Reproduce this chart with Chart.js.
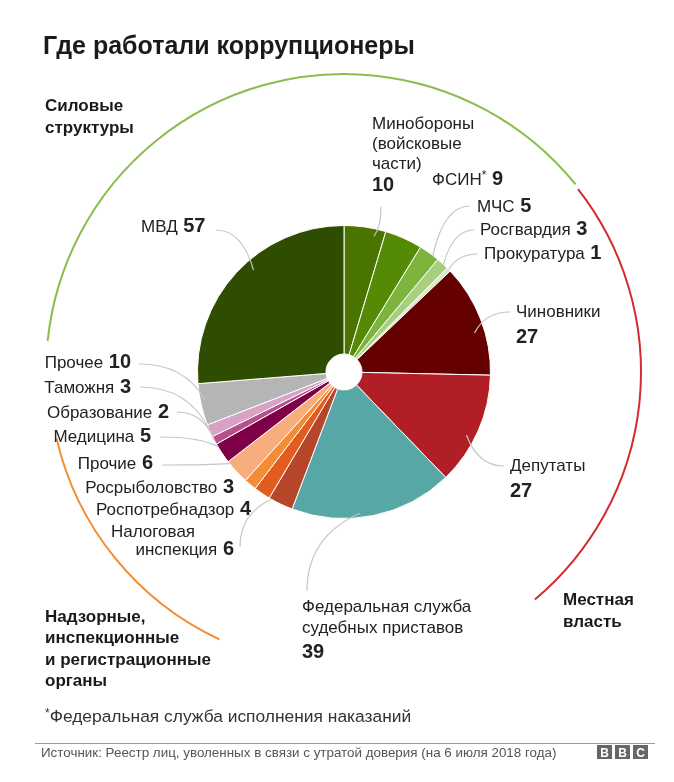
<!DOCTYPE html>
<html>
<head>
<meta charset="utf-8">
<script src="https://cdn.jsdelivr.net/npm/chart.js@4.4.1/dist/chart.umd.min.js"></script>
<style>
  html, body { margin: 0; padding: 0; background: #ffffff; }
  #wrap { position: relative; width: 674px; height: 782px; }
</style>
</head>
<body>
<div id="wrap"><canvas id="c" width="674" height="782"></canvas></div>
<script>
// ---------- DATA ----------
const categories = [
  "Минобороны (войсковые части)", "ФСИН*", "МЧС", "Росгвардия", "Прокуратура",
  "Чиновники", "Депутаты",
  "Федеральная служба судебных приставов", "Налоговая инспекция", "Роспотребнадзор", "Росрыболовство", "Прочие",
  "Медицина", "Образование", "Таможня", "Прочее",
  "МВД"
];
const values = [10, 9, 5, 3, 1, 27, 27, 39, 6, 4, 3, 6, 5, 2, 3, 10, 57];
const titleText = "Где работали коррупционеры";
const footnoteText = "Федеральная служба исполнения наказаний";
const sourceText = "Источник: Реестр лиц, уволенных в связи с утратой доверия (на 6 июля 2018 года)";

// ---------- STYLE ----------
const colors = [
  "#4a7400", "#558a05", "#7db43c", "#a6cf7e", "#d8e9c2",
  "#650000", "#b11e25",
  "#58a7a7", "#b5462a", "#e35c1f", "#f58b35", "#f8ad7c",
  "#7e0047", "#b8508a", "#d7a2c6", "#b5b5b5",
  "#2f4d00"
];
const FONT = '"Liberation Sans", Arial, sans-serif';
const TXT = "#222222";

// label layout: slice index, text lines, number placement, anchor, leader
const labelLayout = [
  { i: 16, lines: ["МВД"], num: "inline", x: 141, y: 232, align: "left", lead: [216, 230], fr: 0.93, af: 0.56, mode: "h" },
  { i: 0, lines: ["Минобороны", "(войсковые", "части)"], num: "below", x: 372, y: 129, align: "left", lh: 20, lh2: 22, lead: [381, 207], fr: 0.95, af: 0.75, mode: "v" },
  { i: 1, lines: ["ФСИН"], star: true, num: "inline", x: 432, y: 185, align: "left" },
  { i: 2, lines: ["МЧС"], num: "inline", x: 477, y: 212, align: "left", lead: [470, 206], fr: 1.0, af: 0.7, mode: "h" },
  { i: 3, lines: ["Росгвардия"], num: "inline", x: 480, y: 235, align: "left", lead: [474, 230], fr: 1.0, af: 0.6, mode: "h" },
  { i: 4, lines: ["Прокуратура"], num: "inline", x: 484, y: 259, align: "left", lead: [478, 254], fr: 1.0, af: 0.5, mode: "h" },
  { i: 5, lines: ["Чиновники"], num: "below", x: 516, y: 317, align: "left", lh: 26, lead: [510, 312], fr: 0.93, af: 0.6, mode: "h" },
  { i: 6, lines: ["Депутаты"], num: "below", x: 510, y: 471, align: "left", lh: 26, lead: [504, 466], fr: 0.94, af: 0.58, mode: "h" },
  { i: 7, lines: ["Федеральная служба", "судебных приставов"], num: "below", x: 302, y: 612, align: "left", lh: 21, lh2: 25, lead: [307, 591], fr: 0.97, af: 0.58, mode: "v" },
  { i: 8, lines: ["Налоговая", "инспекция"], num: "inline", x: 111, y: 537, align: "left2", rx: 234, lh: 18, lead: [240, 547], fr: 1.0, af: 0.9, mode: "v" },
  { i: 9, lines: ["Роспотребнадзор"], num: "inline", x: 251, y: 515, align: "right" },
  { i: 10, lines: ["Росрыболовство"], num: "inline", x: 234, y: 493, align: "right" },
  { i: 11, lines: ["Прочие"], num: "inline", x: 153, y: 469, align: "right", lead: [162, 465], fr: 1.0, af: 0.9, mode: "h" },
  { i: 12, lines: ["Медицина"], num: "inline", x: 151, y: 442, align: "right", lead: [160, 437], fr: 1.0, af: 0.85, mode: "h" },
  { i: 13, lines: ["Образование"], num: "inline", x: 169, y: 418, align: "right", lead: [177, 412], fr: 1.0, af: 0.5, mode: "h" },
  { i: 14, lines: ["Таможня"], num: "inline", x: 131, y: 393, align: "right", lead: [140, 387], fr: 1.0, af: 0.5, mode: "h" },
  { i: 15, lines: ["Прочее"], num: "inline", x: 131, y: 368, align: "right", lead: [139, 364], fr: 0.97, af: 0.6, mode: "h" }
];

// group arcs (canvas degrees around the pie centre)
const groupArcs = [
  { color: "#8bbd4a", a0: 186, a1: 321, r: 298 },
  { color: "#d42b33", a0: 322, a1: 410, r: 297 },
  { color: "#f28d33", a0: 115, a1: 167, r: 295 }
];
const groupLabels = [
  { lines: ["Силовые", "структуры"], x: 45, y: 111, lh: 22 },
  { lines: ["Местная", "власть"], x: 563, y: 605, lh: 22 },
  { lines: ["Надзорные,", "инспекционные", "и регистрационные", "органы"], x: 45, y: 622, lh: 21.3 }
];

function fontR(s) { return s + "px " + FONT; }
function fontB(s) { return "bold " + s + "px " + FONT; }

const LBL = 17, NUM = 20;

function drawParts(ctx, parts, x, y, align) {
  let w = 0;
  parts.forEach(p => { ctx.font = p.f; p.w = ctx.measureText(p.t).width; w += p.w; });
  let cx = align === "right" ? x - w : x;
  ctx.textAlign = "left";
  ctx.textBaseline = "alphabetic";
  parts.forEach(p => {
    ctx.font = p.f; ctx.fillStyle = p.c || TXT;
    ctx.fillText(p.t, cx, y + (p.dy || 0));
    cx += p.w;
  });
}

const overlay = {
  id: "overlay",
  beforeDraw(chart) {
    const ctx = chart.ctx;
    ctx.save();
    ctx.fillStyle = "#ffffff";
    ctx.fillRect(0, 0, chart.width, chart.height);
    ctx.restore();
  },
  afterDraw(chart) {
    const ctx = chart.ctx;
    const meta = chart.getDatasetMeta(0);
    const a0 = meta.data[0];
    const cx = a0.x, cy = a0.y;
    ctx.save();

    // title
    ctx.fillStyle = "#1a1a1a";
    ctx.font = fontB(25);
    ctx.textAlign = "left";
    ctx.fillText(titleText, 43, 54);

    // group arcs
    groupArcs.forEach(g => {
      ctx.beginPath();
      ctx.strokeStyle = g.color;
      ctx.lineWidth = 2;
      ctx.arc(cx, cy, g.r, g.a0 * Math.PI / 180, g.a1 * Math.PI / 180);
      ctx.stroke();
    });

    // group labels
    ctx.fillStyle = "#1a1a1a";
    ctx.font = fontB(17);
    groupLabels.forEach(g => g.lines.forEach((t, k) => ctx.fillText(t, g.x, g.y + k * g.lh)));

    // leader lines
    ctx.strokeStyle = "#c6c6c6";
    ctx.lineWidth = 1.2;
    labelLayout.forEach(L => {
      if (!L.lead) return;
      const el = meta.data[L.i];
      const ang = el.startAngle + (el.endAngle - el.startAngle) * L.af;
      const rr = el.outerRadius * L.fr;
      const ex = cx + Math.cos(ang) * rr, ey = cy + Math.sin(ang) * rr;
      const sx = L.lead[0], sy = L.lead[1];
      let qx, qy;
      if (L.mode === "v") { qx = sx; qy = sy + 0.7 * (ey - sy); }
      else { qx = sx + 0.7 * (ex - sx); qy = sy; }
      ctx.beginPath();
      ctx.moveTo(sx, sy);
      ctx.quadraticCurveTo(qx, qy, ex, ey);
      ctx.stroke();
    });

    // labels
    labelLayout.forEach(L => {
      const v = String(values[L.i]);
      if (L.num === "inline") {
        if (L.lines.length === 1) {
          const parts = [{ t: L.lines[0], f: fontR(LBL) }];
          if (L.star) parts.push({ t: "*", f: fontR(12), dy: -6 });
          parts.push({ t: " " + v, f: fontB(NUM) });
          drawParts(ctx, parts, L.x, L.y, L.align);
        } else {
          drawParts(ctx, [{ t: L.lines[0], f: fontR(LBL) }], L.x, L.y, "left");
          drawParts(ctx, [{ t: L.lines[1], f: fontR(LBL) }, { t: " " + v, f: fontB(NUM) }], L.rx, L.y + L.lh, "right");
        }
      } else {
        const lh = L.lh || 20;
        L.lines.forEach((t, k) => drawParts(ctx, [{ t, f: fontR(LBL) }], L.x, L.y + k * lh, "left"));
        drawParts(ctx, [{ t: v, f: fontB(NUM) }], L.x, L.y + (L.lines.length - 1) * lh + (L.lh2 || lh), "left");
      }
    });

    // footnote
    drawParts(ctx, [{ t: "*", f: fontR(12), dy: -5, c: "#333" }, { t: footnoteText, f: fontR(17.4), c: "#333" }], 45, 722, "left");

    // separator
    ctx.strokeStyle = "#9a9a9a";
    ctx.lineWidth = 1;
    ctx.beginPath(); ctx.moveTo(35, 743.5); ctx.lineTo(655, 743.5); ctx.stroke();

    // source
    ctx.font = fontR(13.4);
    ctx.fillStyle = "#555";
    ctx.fillText(sourceText, 41, 757);

    // BBC blocks
    ["B", "B", "C"].forEach((ch, k) => {
      const bx = 597 + k * 18;
      ctx.fillStyle = "#666";
      ctx.fillRect(bx, 745, 15, 14);
      ctx.fillStyle = "#fff";
      ctx.font = fontB(12);
      ctx.textAlign = "center";
      ctx.fillText(ch, bx + 7.5, 757);
    });
    ctx.restore();
  }
};

new Chart(document.getElementById("c"), {
  type: "doughnut",
  data: {
    labels: categories,
    datasets: [{
      data: values,
      backgroundColor: colors,
      borderColor: "#ffffff",
      borderWidth: 1
    }]
  },
  options: {
    responsive: false,
    animation: false,
    cutout: 18,
    rotation: 0,
    layout: { padding: { left: 197, right: 183, top: 225, bottom: 263 } },
    plugins: { legend: { display: false }, tooltip: { enabled: false } }
  },
  plugins: [overlay]
});
</script>
</body>
</html>
